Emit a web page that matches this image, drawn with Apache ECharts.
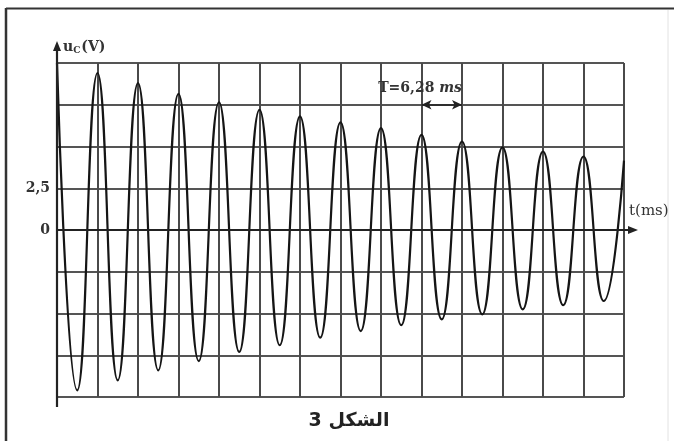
<!DOCTYPE html>
<html>
<head>
<meta charset="utf-8">
<script src="https://cdn.jsdelivr.net/npm/echarts@6/dist/echarts.min.js"></script>
<style>
html,body{margin:0;padding:0;background:#fff;}
#c{width:674px;height:441px;}
</style>
</head>
<body>
<div id="c"></div>
<script>
// ---- data ----
const periodMs = 6.28;                 // T = 6,28 ms (one grid division)
const xMin = 0, xMax = 87.92;          // 14 divisions
const yMin = -10, yMax = 10, yStep = 2.5;
const yTickLabels = { '2.5': '2,5', '0': '0' };
// times (ms) of successive extrema of u_C
const tValues = [0, 3.14, 6.28, 9.42, 12.56, 15.70, 18.84, 21.98, 25.12, 28.26,
                 31.40, 34.54, 37.68, 40.82, 43.96, 47.10, 50.24, 53.38, 56.52, 59.66,
                 62.80, 65.94, 69.08, 72.22, 75.36, 78.50, 81.64, 84.78, 87.92];
// u_C (V) at those extrema
const uValues = [10, -9.6, 9.4, -9.0, 8.8, -8.4, 8.15, -7.85, 7.65, -7.3,
                 7.2, -6.9, 6.8, -6.45, 6.45, -6.05, 6.1, -5.7, 5.7, -5.35,
                 5.3, -5.05, 4.95, -4.75, 4.7, -4.5, 4.4, -4.25, 4.15];
// period annotation: from 9T to 10T on the 7,5 V line
const periodArrowStart = [56.52, 7.5];
const periodArrowEnd = [62.80, 7.5];

const seriesData = tValues.map((t, i) => [t, uValues[i]]);
const serif = "'DejaVu Serif', 'Liberation Serif', serif";

const chart = echarts.init(document.getElementById('c'), null, { renderer: 'canvas' });
const option = {
  animation: false,
  backgroundColor: '#fff',
  grid: { left: 57, right: 50, top: 63, bottom: 44, containLabel: false },
  xAxis: {
    type: 'value', min: xMin, max: xMax, interval: periodMs,
    axisLine: { show: false },
    axisTick: { show: false },
    axisLabel: { show: false },
    splitLine: { show: true, lineStyle: { color: '#4a4a4a', width: 2 } }
  },
  yAxis: {
    type: 'value', min: yMin, max: yMax, interval: yStep,
    axisLine: { show: false },
    axisTick: { show: false },
    axisLabel: {
      show: true, margin: 7,
      color: '#333', fontFamily: serif, fontWeight: 'bold', fontSize: 14,
      formatter: v => (yTickLabels[String(v)] !== undefined ? yTickLabels[String(v)] : '')
    },
    splitLine: { show: true, lineStyle: { color: '#555', width: 1.8 } }
  },
  series: [{
    type: 'line',
    data: seriesData,
    smooth: 0.5,
    symbol: 'none',
    lineStyle: { color: '#151515', width: 2.2 },
    z: 3,
    markLine: {
      silent: true,
      symbol: ['arrow', 'arrow'],
      symbolSize: [7, 10],
      lineStyle: { color: '#222', width: 1.6, type: 'solid' },
      label: { show: false },
      data: [[{ coord: periodArrowStart }, { coord: periodArrowEnd }]]
    }
  }]
};
chart.setOption(option);

const px = p => chart.convertToPixel({ gridIndex: 0 }, p);
const pO = px([xMin, 0]);
const pTop = px([xMin, yMax]);
const pBot = px([xMin, yMin]);
const pRight = px([xMax, 0]);
const pTLabel = px([56.3, 8.5]);
const ink = '#222';

chart.setOption({
  graphic: [
    // frame
    { type: 'line', shape: { x1: 6, y1: 8, x2: 6, y2: 441 }, style: { stroke: '#333', lineWidth: 2.5 } },
    { type: 'line', shape: { x1: 6, y1: 8.5, x2: 674, y2: 8.5 }, style: { stroke: '#333', lineWidth: 2 } },
    { type: 'line', shape: { x1: 668, y1: 10, x2: 668, y2: 441 }, style: { stroke: '#e2e2e2', lineWidth: 1 } },
    // y axis with arrow
    { type: 'line', z: 10, shape: { x1: pO[0], y1: pBot[1] + 10, x2: pO[0], y2: pTop[1] - 14 }, style: { stroke: ink, lineWidth: 2.2 } },
    { type: 'polygon', z: 10, shape: { points: [[pO[0], pTop[1] - 22], [pO[0] - 4, pTop[1] - 12], [pO[0] + 4, pTop[1] - 12]] }, style: { fill: ink } },
    // x axis with arrow
    { type: 'line', z: 10, shape: { x1: pO[0], y1: pO[1], x2: pRight[0] + 6, y2: pO[1] }, style: { stroke: ink, lineWidth: 2.2 } },
    { type: 'polygon', z: 10, shape: { points: [[pRight[0] + 14, pO[1]], [pRight[0] + 4, pO[1] - 4], [pRight[0] + 4, pO[1] + 4]] }, style: { fill: ink } },
    // axis names
    {
      type: 'text', z: 10, x: pO[0] + 6, y: pTop[1] - 16,
      style: {
        text: '{u|u}{s|C}{u|(V)}', verticalAlign: 'middle', align: 'left',
        rich: {
          u: { fontFamily: serif, fontSize: 14, fontWeight: 'bold', fill: '#333' },
          s: { fontFamily: serif, fontSize: 9, fontWeight: 'bold', fill: '#333', padding: [8, 1, 0, 0] }
        }
      }
    },
    {
      type: 'text', z: 10, x: pRight[0] + 5, y: pO[1] - 19,
      style: { text: 't(ms)', fontFamily: serif, fontSize: 15, fill: '#333', align: 'left', verticalAlign: 'middle' }
    },
    // period label
    {
      type: 'text', z: 10, x: pTLabel[0], y: pTLabel[1],
      style: {
        text: '{a|T=6,28 }{b|ms}', align: 'center', verticalAlign: 'middle',
        rich: {
          a: { fontFamily: serif, fontSize: 14, fontWeight: 'bold', fill: '#333' },
          b: { fontFamily: serif, fontSize: 14, fontStyle: 'italic', fontWeight: 'bold', fill: '#333' }
        }
      }
    },
    // caption
    {
      type: 'text', z: 10, x: 349, y: 421,
      style: { text: '\u202Bالشكل 3\u202C', fontFamily: "'DejaVu Sans', sans-serif", fontSize: 19, fontWeight: 'bold', fill: '#222', align: 'center', verticalAlign: 'middle' }
    }
  ]
});
</script>
</body>
</html>
